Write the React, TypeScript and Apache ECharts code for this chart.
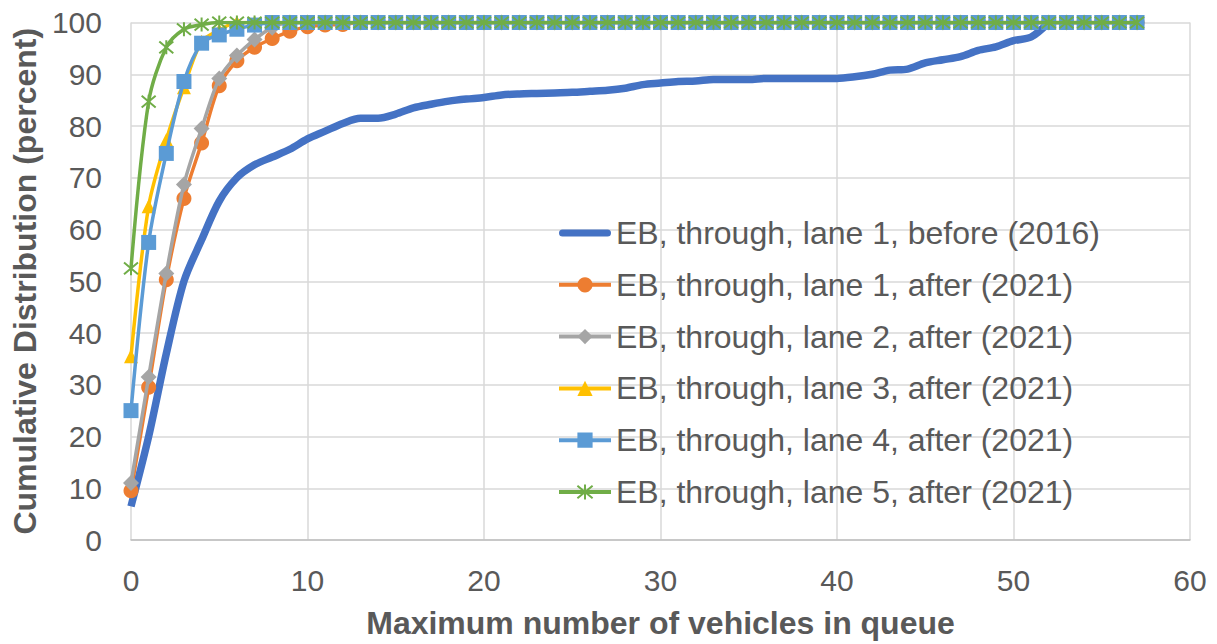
import React, { useEffect, useRef } from "react";
import * as echarts from "echarts";

const seriesNames = [
  "EB, through, lane 1, before (2016)",
  "EB, through, lane 1, after (2021)",
  "EB, through, lane 2, after (2021)",
  "EB, through, lane 3, after (2021)",
  "EB, through, lane 4, after (2021)",
  "EB, through, lane 5, after (2021)",
];

// values indexed by x = 0, 1, 2, ...
const before2016 = [
  6.5, 20, 36, 50, 58, 65.5, 70, 72.5, 74, 75.5,
  77.5, 79, 80.5, 81.5, 81.5, 82.3, 83.5, 84.2, 84.8, 85.2,
  85.5, 86, 86.2, 86.3, 86.4, 86.5, 86.7, 86.9, 87.3, 88,
  88.3, 88.6, 88.7, 89, 89, 89, 89.2, 89.2, 89.2, 89.2,
  89.2, 89.5, 90, 90.8, 91, 92.2, 92.8, 93.4, 94.6, 95.3,
  96.5, 97.2, 100,
];

const lane1After = [
  9.5, 29.5, 50.3, 66, 76.7, 87.8, 92.6, 95.2, 96.9, 98.3,
  99.2, 99.5, 99.6, 100, 100, 100, 100, 100, 100, 100,
  100, 100, 100, 100, 100, 100, 100, 100, 100, 100,
  100, 100, 100, 100, 100, 100, 100, 100, 100, 100,
  100, 100, 100, 100, 100, 100, 100, 100, 100, 100,
  100, 100, 100, 100, 100, 100, 100, 100,
];

const lane2After = [
  11, 31.5, 51.5, 68.7, 79.5, 89.2, 93.6, 96.7, 99, 100,
  100, 100, 100, 100, 100, 100, 100, 100, 100, 100,
  100, 100, 100, 100, 100, 100, 100, 100, 100, 100,
  100, 100, 100, 100, 100, 100, 100, 100, 100, 100,
  100, 100, 100, 100, 100, 100, 100, 100, 100, 100,
  100, 100, 100, 100, 100, 100, 100, 100,
];

const lane3After = [
  35.5, 64.5, 77.3, 87.5, 96.3, 98.5, 100, 100, 100, 100,
  100, 100, 100, 100, 100, 100, 100, 100, 100, 100,
  100, 100, 100, 100, 100, 100, 100, 100, 100, 100,
  100, 100, 100, 100, 100, 100, 100, 100, 100, 100,
  100, 100, 100, 100, 100, 100, 100, 100, 100, 100,
  100, 100, 100, 100, 100, 100, 100, 100,
];

const lane4After = [
  25, 57.5, 74.7, 88.6, 96, 97.6, 98.7, 99.5, 100, 100,
  100, 100, 100, 100, 100, 100, 100, 100, 100, 100,
  100, 100, 100, 100, 100, 100, 100, 100, 100, 100,
  100, 100, 100, 100, 100, 100, 100, 100, 100, 100,
  100, 100, 100, 100, 100, 100, 100, 100, 100, 100,
  100, 100, 100, 100, 100, 100, 100, 100,
];

const lane5After = [
  52.5, 84.7, 95.2, 98.7, 99.6, 100, 100, 100, 100, 100,
  100, 100, 100, 100, 100, 100, 100, 100, 100, 100,
  100, 100, 100, 100, 100, 100, 100, 100, 100, 100,
  100, 100, 100, 100, 100, 100, 100, 100, 100, 100,
  100, 100, 100, 100, 100, 100, 100, 100, 100, 100,
  100, 100, 100, 100, 100, 100, 100, 100,
];

const colors = ["#4472C4", "#ED7D31", "#A5A5A5", "#FFC000", "#5B9BD5", "#70AD47"];

const FONT = "'Liberation Sans', Arial, sans-serif";
const ASTERISK = "path://M0,0L10,10M10,0L0,10M5,-1L5,11";
const THICK_BAR = "path://M3.5,0L48.5,0A3.5,3.5,0,0,1,48.5,7L3.5,7A3.5,3.5,0,0,1,3.5,0Z";

const toPairs = (arr: number[]) => arr.map((v, i) => [i, v]);

export default function App() {
  const ref = useRef<HTMLDivElement>(null);

  useEffect(() => {
    if (!ref.current) return;
    const chart = echarts.init(ref.current, undefined, { renderer: "svg" });

    const mk = (
      idx: number,
      data: number[],
      symbol: string,
      symbolSize: number,
      width: number,
      extraItem: any = {}
    ) => ({
      name: seriesNames[idx],
      type: "line",
      data: toPairs(data),
      smooth: 0.3,
      symbol,
      symbolSize,
      showSymbol: symbol !== "none",
      showAllSymbol: true,
      lineStyle: { color: colors[idx], width },
      itemStyle: { color: colors[idx], borderWidth: 0, ...extraItem },
      emphasis: { disabled: true },
      z: 2 + idx,
    });

    chart.setOption({
      animation: false,
      backgroundColor: "#ffffff",
      textStyle: { fontFamily: FONT },
      grid: { left: 131, right: 27, top: 22.5, bottom: 102, containLabel: false },
      xAxis: {
        type: "value",
        min: 0,
        max: 60,
        interval: 10,
        name: "Maximum number of vehicles in queue",
        nameLocation: "middle",
        nameGap: 67,
        nameTextStyle: { fontFamily: FONT, fontSize: 32, fontWeight: "bold", color: "#595959" },
        axisLine: { show: true, lineStyle: { color: "#BFBFBF", width: 1.5 } },
        axisTick: { show: false },
        axisLabel: { fontFamily: FONT, fontSize: 30, color: "#595959", margin: 25 },
        splitLine: { show: true, lineStyle: { color: "#D9D9D9", width: 1.5 } },
      },
      yAxis: {
        type: "value",
        min: 0,
        max: 100,
        interval: 10,
        name: "Cumulative Distribution (percent)",
        nameLocation: "middle",
        nameGap: 88,
        nameTextStyle: { fontFamily: FONT, fontSize: 32, fontWeight: "bold", color: "#595959" },
        axisLine: { show: false },
        axisTick: { show: false },
        axisLabel: { fontFamily: FONT, fontSize: 30, color: "#595959", margin: 29 },
        splitLine: { show: true, lineStyle: { color: "#D9D9D9", width: 1.5 } },
      },
      legend: {
        orient: "vertical",
        left: 552,
        top: 211,
        itemWidth: 52,
        itemHeight: 19,
        itemGap: 17.8,
        selectedMode: false,
        lineStyle: { width: 4 },
        textStyle: { fontFamily: FONT, fontSize: 32, color: "#595959", lineHeight: 34 },
        data: [
          { name: seriesNames[0], icon: THICK_BAR },
          seriesNames[1],
          seriesNames[2],
          seriesNames[3],
          seriesNames[4],
          seriesNames[5],
        ],
      },
      series: [
        mk(0, before2016, "none", 0, 7.5),
        mk(1, lane1After, "circle", 15, 3.5),
        mk(2, lane2After, "diamond", 16, 3.5),
        mk(3, lane3After, "triangle", 14, 3.5),
        mk(4, lane4After, "rect", 15, 3.5),
        mk(5, lane5After, ASTERISK, 14, 3.5, {
          color: "rgba(0,0,0,0)",
          borderColor: colors[5],
          borderWidth: 2,
        }),
      ],
    });

    return () => chart.dispose();
  }, []);

  return (
    <div
      ref={ref}
      style={{ position: "fixed", left: 0, top: 0, width: 1217, height: 644 }}
    />
  );
}
